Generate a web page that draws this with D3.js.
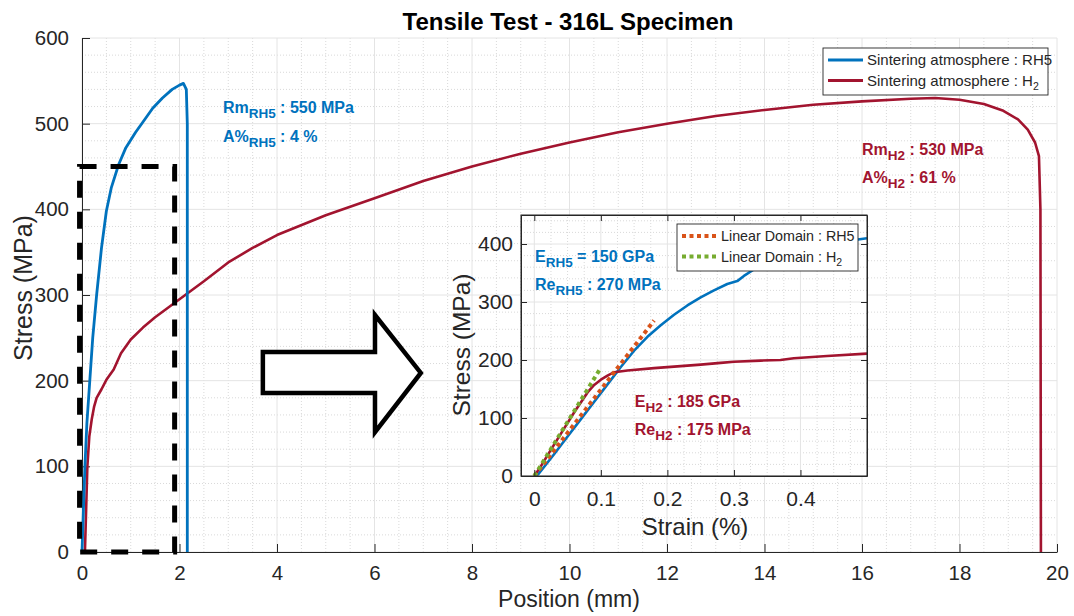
<!DOCTYPE html>
<html><head><meta charset="utf-8">
<script src="https://cdn.jsdelivr.net/npm/d3@7"></script>
<style>
body{margin:0;background:#fff}
svg{display:block}
text{font-family:"Liberation Sans",Arial,Helvetica,sans-serif;white-space:pre}
</style>
</head><body>
<svg id="c" width="1074" height="616"></svg>
<script>
// ---------- DATA ----------
const mainXTicks = [0,2,4,6,8,10,12,14,16,18,20];
const mainYTicks = [0,100,200,300,400,500,600];
const insetXTicks = [0,0.1,0.2,0.3,0.4];
const insetYTicks = [0,100,200,300,400];

// Main plot: position (mm) vs stress (MPa)
const rh5Pos    = [0,0.03,0.06,0.1,0.16,0.22,0.3,0.4,0.5,0.6,0.75,0.9,1.1,1.25,1.45,1.65,1.85,2.0,2.08,2.14,2.16,2.16];
const rh5Stress = [0,50,100,150,200,250,300,355,398,425,452,472,490,502,518,530,540,545,547,540,500,0];
const h2Pos    = [0.06,0.08,0.11,0.15,0.2,0.25,0.3,0.4,0.5,0.65,0.8,1.0,1.25,1.5,2.0,2.5,3.0,3.5,4.0,5.0,6.0,7.0,8.0,9.0,10.0,11.0,12.0,13.0,14.0,15.0,16.0,17.0,17.5,18.0,18.5,18.9,19.2,19.4,19.55,19.63,19.66,19.67];
const h2Stress = [0,40,100,135,155,170,180,190,201,213,232,248,262,274,295,316,338,355,370,393,413,433,450,465,478,490,500,509,516,522,526,529,530,528,523,515,505,493,478,462,400,0];

// Inset: strain (%) vs stress (MPa)
const rh5Strain      = [0,0.006,0.03,0.05,0.07,0.09,0.11,0.13,0.15,0.17,0.19,0.21,0.23,0.25,0.27,0.29,0.305,0.315,0.33,0.36,0.40,0.45,0.5];
const rh5InsetStress = [0,3,38,68,98,128,158,188,216,240,260,278,294,308,320,331,336,345,356,372,390,402,410];
const h2Strain       = [0,0.01,0.02,0.04,0.06,0.08,0.09,0.1,0.11,0.12,0.14,0.18,0.25,0.28,0.30,0.34,0.37,0.39,0.44,0.5];
const h2InsetStress  = [0,17,36,73,110,144,157,166,173,179,182,186,192,195,197,199,200,203,207,211];
const linRH5Strain = [0,0.18],  linRH5Stress = [0,268];
const linH2Strain  = [0,0.098], linH2Stress  = [0,183];

// Zoom box (mm, MPa) and arrow (mm, MPa)
const zoomBoxX = [-0.05,1.9], zoomBoxY = [0,450];
const arrowX = [3.71,6.01,6.01,6.95,6.01,6.01,3.71];
const arrowY = [233.5,233.5,276.6,209,140,185.6,185.6];

// ---------- STYLE ----------
const C_RH5 = "#0072BD", C_H2 = "#A2142F", C_LR = "#D95319", C_LH = "#77AC30";
const AX = "#262626";
const svg = d3.select("#c");

// ---------- MAIN AXES ----------
const x = d3.scaleLinear([0,20],[82,1057]);
const y = d3.scaleLinear([0,600],[552,38]);

const grid = svg.append("g");
const minorX = d3.range(0,20.001,0.5).filter(v=>Math.abs(v/2-Math.round(v/2))>1e-6);
const minorY = d3.range(0,600.001,20).filter(v=>v%100!==0);
grid.selectAll(".mx").data(minorX).join("line")
  .attr("x1",d=>x(d)).attr("x2",d=>x(d)).attr("y1",y(0)).attr("y2",y(600))
  .attr("stroke","#d9d9d9").attr("stroke-width",1).attr("stroke-dasharray","1,2");
grid.selectAll(".my").data(minorY).join("line")
  .attr("y1",d=>y(d)).attr("y2",d=>y(d)).attr("x1",x(0)).attr("x2",x(20))
  .attr("stroke","#d9d9d9").attr("stroke-width",1).attr("stroke-dasharray","1,2");
grid.selectAll(".Mx").data(mainXTicks).join("line")
  .attr("x1",d=>x(d)).attr("x2",d=>x(d)).attr("y1",y(0)).attr("y2",y(600))
  .attr("stroke","#e4e4e4").attr("stroke-width",1);
grid.selectAll(".My").data(mainYTicks).join("line")
  .attr("y1",d=>y(d)).attr("y2",d=>y(d)).attr("x1",x(0)).attr("x2",x(20))
  .attr("stroke","#e4e4e4").attr("stroke-width",1);

function styleAxis(g, fs){
  g.selectAll("path").attr("stroke",AX).attr("stroke-width",1);
  g.selectAll("line").attr("stroke",AX).attr("stroke-width",1);
  g.selectAll("text").attr("fill",AX).attr("font-size",fs)
   .attr("font-family",'"Liberation Sans",Arial,Helvetica,sans-serif');
}
const xAxisG = svg.append("g").attr("transform",`translate(0,${y(0)})`)
  .call(d3.axisBottom(x).tickValues(mainXTicks).tickFormat(d3.format("d")).tickSize(-8).tickSizeOuter(0).tickPadding(13));
styleAxis(xAxisG, 20.5);
const yAxisG = svg.append("g").attr("transform",`translate(${x(0)},0)`)
  .call(d3.axisLeft(y).tickValues(mainYTicks).tickFormat(d3.format("d")).tickSize(-8).tickSizeOuter(0).tickPadding(13));
styleAxis(yAxisG, 20.5);

// curves
const lineMain = d3.line().x(d=>x(d[0])).y(d=>y(d[1]));
svg.append("path").datum(d3.zip(h2Pos,h2Stress)).attr("d",lineMain)
  .attr("fill","none").attr("stroke",C_H2).attr("stroke-width",2.6).attr("stroke-linejoin","round");
svg.append("path").datum(d3.zip(rh5Pos,rh5Stress)).attr("d",lineMain)
  .attr("fill","none").attr("stroke",C_RH5).attr("stroke-width",2.8).attr("stroke-linejoin","round");

// dashed zoom box
svg.append("rect").attr("x",x(zoomBoxX[0])).attr("y",y(zoomBoxY[1]))
  .attr("width",x(zoomBoxX[1])-x(zoomBoxX[0])).attr("height",y(zoomBoxY[0])-y(zoomBoxY[1]))
  .attr("fill","none").attr("stroke","#000").attr("stroke-width",5).attr("stroke-dasharray","17,14");

// arrow
svg.append("path").datum(d3.zip(arrowX,arrowY))
  .attr("d",d3.line().x(d=>x(d[0])).y(d=>y(d[1])).curve(d3.curveLinearClosed))
  .attr("fill","#fff").attr("stroke","#000").attr("stroke-width",4.5).attr("stroke-linejoin","miter");

// title & labels
svg.append("text").attr("x",568).attr("y",30).attr("text-anchor","middle")
  .attr("font-size",24).attr("font-weight","bold").attr("fill","#000").text("Tensile Test - 316L Specimen");
svg.append("text").attr("x",569).attr("y",607).attr("text-anchor","middle")
  .attr("font-size",23).attr("fill",AX).text("Position (mm)");
svg.append("text").attr("transform","translate(32,288) rotate(-90)").attr("text-anchor","middle")
  .attr("font-size",25).attr("fill",AX).text("Stress (MPa)");

// annotations
function subText(g, px, py, base, sub, rest, color){
  const t = g.append("text").attr("x",px).attr("y",py).attr("fill",color)
    .attr("font-weight","bold").attr("font-size",16);
  t.append("tspan").text(base);
  t.append("tspan").attr("font-size",13.5).attr("dy",5).text(sub);
  t.append("tspan").attr("dy",-5).text(rest);
}
subText(svg, x(2.89), y(513), "Rm", "RH5", " : 550 MPa", C_RH5);
subText(svg, x(2.89), y(479), "A%", "RH5", " : 4 %", C_RH5);
subText(svg, x(16.0), y(463), "Rm", "H2", " : 530 MPa", C_H2);
subText(svg, x(16.0), y(430.5), "A%", "H2", " : 61 %", C_H2);

// legend helper
function legend(g, bx, by, bw, bh, items, fs){
  g.append("rect").attr("x",bx).attr("y",by).attr("width",bw).attr("height",bh)
    .attr("fill","#fff").attr("stroke",AX).attr("stroke-width",0.9);
  items.forEach((it,i)=>{
    const cy = by + 12 + i*20.5;
    g.append("line").attr("x1",bx+5).attr("x2",bx+40).attr("y1",cy).attr("y2",cy)
      .attr("stroke",it.color).attr("stroke-width",it.w).attr("stroke-dasharray",it.dash||null);
    const t = g.append("text").attr("x",bx+44).attr("y",cy+5).attr("font-size",fs).attr("fill",AX);
    t.append("tspan").text(it.label);
    if(it.sub){ t.append("tspan").attr("font-size",10.5).attr("dy",4).text(it.sub); }
  });
}
legend(svg, 823, 48, 225, 47, [
  {label:"Sintering atmosphere : RH5", color:C_RH5, w:3},
  {label:"Sintering atmosphere : H", sub:"2", color:C_H2, w:3}
], 15);

// ---------- INSET ----------
const ix = d3.scaleLinear([-0.02,0.5],[521,867]);
const iy = d3.scaleLinear([0,450],[476,215]);
const inset = svg.append("g");
inset.append("rect").attr("x",ix(-0.02)).attr("y",iy(450)).attr("width",ix(0.5)-ix(-0.02))
  .attr("height",iy(0)-iy(450)).attr("fill","#fff");
const iMinorX = d3.range(-0.0,0.5001,0.025).filter(v=>Math.abs(v*10-Math.round(v*10))>1e-6);
const iMinorY = d3.range(0,450.001,20).filter(v=>v%100!==0);
inset.selectAll(".imx").data(iMinorX).join("line")
  .attr("x1",d=>ix(d)).attr("x2",d=>ix(d)).attr("y1",iy(0)).attr("y2",iy(450))
  .attr("stroke","#d9d9d9").attr("stroke-dasharray","1,2");
inset.selectAll(".imy").data(iMinorY).join("line")
  .attr("y1",d=>iy(d)).attr("y2",d=>iy(d)).attr("x1",ix(-0.02)).attr("x2",ix(0.5))
  .attr("stroke","#d9d9d9").attr("stroke-dasharray","1,2");
inset.selectAll(".iMx").data(insetXTicks).join("line")
  .attr("x1",d=>ix(d)).attr("x2",d=>ix(d)).attr("y1",iy(0)).attr("y2",iy(450))
  .attr("stroke","#e4e4e4");
inset.selectAll(".iMy").data(insetYTicks).join("line")
  .attr("y1",d=>iy(d)).attr("y2",d=>iy(d)).attr("x1",ix(-0.02)).attr("x2",ix(0.5))
  .attr("stroke","#e4e4e4");

svg.append("defs").append("clipPath").attr("id","iclip").append("rect")
  .attr("x",ix(-0.02)).attr("y",iy(450)).attr("width",ix(0.5)-ix(-0.02)).attr("height",iy(0)-iy(450));
const curves = inset.append("g").attr("clip-path","url(#iclip)");
const lineIn = d3.line().x(d=>ix(d[0])).y(d=>iy(d[1]));
curves.append("path").datum(d3.zip(rh5Strain,rh5InsetStress)).attr("d",lineIn)
  .attr("fill","none").attr("stroke",C_RH5).attr("stroke-width",2.6).attr("stroke-linejoin","round");
curves.append("path").datum(d3.zip(h2Strain,h2InsetStress)).attr("d",lineIn)
  .attr("fill","none").attr("stroke",C_H2).attr("stroke-width",2.6).attr("stroke-linejoin","round");
curves.append("path").datum(d3.zip(linRH5Strain,linRH5Stress)).attr("d",lineIn)
  .attr("fill","none").attr("stroke",C_LR).attr("stroke-width",4).attr("stroke-dasharray","4,3.5");
curves.append("path").datum(d3.zip(linH2Strain,linH2Stress)).attr("d",lineIn)
  .attr("fill","none").attr("stroke",C_LH).attr("stroke-width",4).attr("stroke-dasharray","4,3.5");

// inset box & axes
const ixAxis = inset.append("g").attr("transform",`translate(0,${iy(0)})`)
  .call(d3.axisBottom(ix).tickValues(insetXTicks).tickFormat(d=>d===0?"0":d3.format(".1f")(d)).tickSize(-6).tickSizeOuter(0).tickPadding(15));
styleAxis(ixAxis, 21);
const iyAxis = inset.append("g").attr("transform",`translate(${ix(-0.02)},0)`)
  .call(d3.axisLeft(iy).tickValues(insetYTicks).tickFormat(d3.format("d")).tickSize(-6).tickSizeOuter(0).tickPadding(8));
styleAxis(iyAxis, 21);
const ixTop = inset.append("g").attr("transform",`translate(0,${iy(450)})`)
  .call(d3.axisTop(ix).tickValues(insetXTicks).tickFormat("").tickSize(-6).tickSizeOuter(0));
styleAxis(ixTop, 21);
const iyRight = inset.append("g").attr("transform",`translate(${ix(0.5)},0)`)
  .call(d3.axisRight(iy).tickValues(insetYTicks).tickFormat("").tickSize(-6).tickSizeOuter(0));
styleAxis(iyRight, 21);
inset.append("rect").attr("x",ix(-0.02)).attr("y",iy(450)).attr("width",ix(0.5)-ix(-0.02))
  .attr("height",iy(0)-iy(450)).attr("fill","none").attr("stroke",AX).attr("stroke-width",1);

inset.append("text").attr("x",695).attr("y",535).attr("text-anchor","middle")
  .attr("font-size",24).attr("fill",AX).text("Strain (%)");
inset.append("text").attr("transform","translate(470,345) rotate(-90)").attr("text-anchor","middle")
  .attr("font-size",24.5).attr("fill",AX).text("Stress (MPa)");

subText(inset, ix(0.001), iy(369.5), "E", "RH5", " = 150 GPa", C_RH5);
subText(inset, ix(0.001), iy(320.5), "Re", "RH5", " : 270 MPa", C_RH5);
subText(inset, ix(0.151), iy(119.5), "E", "H2", " : 185 GPa", C_H2);
subText(inset, ix(0.151), iy(70.5), "Re", "H2", " : 175 MPa", C_H2);

legend(inset, 677, 224, 181, 47, [
  {label:"Linear Domain : RH5", color:C_LR, w:4, dash:"4,3.5"},
  {label:"Linear Domain : H", sub:"2", color:C_LH, w:4, dash:"4,3.5"}
], 14.3);
</script>
</body></html>
